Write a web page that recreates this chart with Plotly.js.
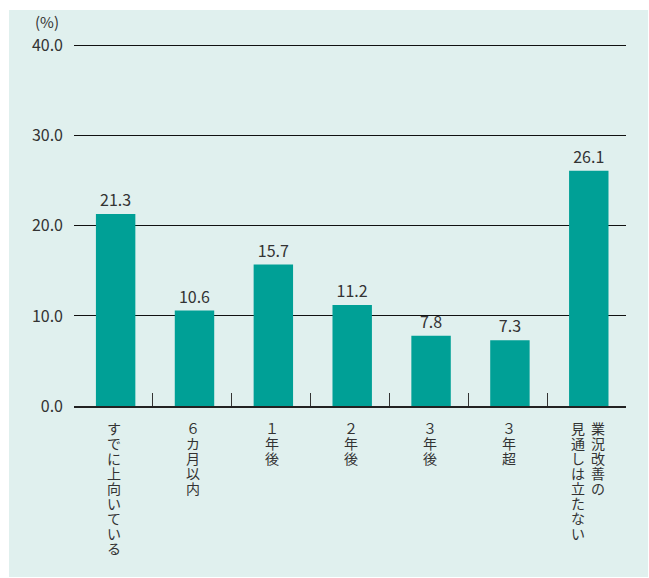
<!DOCTYPE html>
<html>
<head>
<meta charset="utf-8">
<script src="https://cdn.plot.ly/plotly-3.0.1.min.js"></script>
<style>
  html, body { margin: 0; padding: 0; background: #ffffff; }
  #chart { width: 649px; height: 578px; }
</style>
</head>
<body>
<div id="chart"></div>
<script>
// ---- data ----
var categories = ["すでに上向いている", "6カ月以内", "1年後", "2年後", "3年後", "3年超", "業況改善の見通しは立たない"];
// vertical label columns (right column first, as in vertical Japanese writing)
var labelColumns = [
  ["すでに上向いている"],
  ["６カ月以内"],
  ["１年後"],
  ["２年後"],
  ["３年後"],
  ["３年超"],
  ["業況改善の", "見通しは立たない"]
];
var values = [21.3, 10.6, 15.7, 11.2, 7.8, 7.3, 26.1];
var valueLabels = ["21.3", "10.6", "15.7", "11.2", "7.8", "7.3", "26.1"];
var yTicks = [0, 10, 20, 30, 40];
var yTickLabels = ["0.0", "10.0", "20.0", "30.0", "40.0"];
var unitLabel = "(%)";

// ---- styles ----
var textColor = "#333333";
var barColor = "#00a096";
var bgColor = "#e0f0ee";
var jpFont = "'Noto Sans CJK JP', 'Noto Sans', sans-serif";

var annotations = [];
// vertical tick labels: one annotation per character
var charStep = 15;
var colGap = 20;
labelColumns.forEach(function (cols, ci) {
  var n = cols.length;
  cols.forEach(function (col, k) {
    var xs = ((n - 1) / 2 - k) * colGap + 1; // right column first
    Array.from(col).forEach(function (ch, i) {
      annotations.push({
        x: categories[ci], xref: "x",
        y: 0, yref: "y",
        text: ch, showarrow: false,
        xanchor: "center", yanchor: "top",
        xshift: xs,
        yshift: -10 - i * charStep,
        font: { family: jpFont, size: 14, color: textColor }
      });
    });
  });
});
annotations.push({
  x: -0.049, xref: "paper", y: 1.055, yref: "paper",
  text: unitLabel, showarrow: false,
  xanchor: "center", yanchor: "middle",
  font: { family: jpFont, size: 15, color: textColor }
});

var trace = {
  type: "bar",
  x: categories,
  y: values,
  width: 0.5,
  offset: -0.222,
  text: valueLabels,
  textposition: "outside",
  cliponaxis: false,
  textfont: { family: jpFont, size: 16, color: textColor },
  marker: { color: barColor, line: { width: 0 } },
  hoverinfo: "none"
};

var layout = {
  width: 649, height: 578,
  margin: { l: 74, r: 23, t: 42, b: 172 },
  paper_bgcolor: "#ffffff",
  plot_bgcolor: "rgba(0,0,0,0)",
  showlegend: false,
  shapes: [{
    type: "rect", xref: "paper", yref: "paper", layer: "below",
    x0: -0.1178, x1: 1.0399, y0: -0.4698, y1: 1.0879,
    fillcolor: bgColor, line: { width: 0 }
  }],
  xaxis: {
    type: "category",
    showticklabels: false,
    ticks: "inside",
    tickson: "boundaries",
    ticklen: 13,
    tickwidth: 1.2,
    tickcolor: "#333333",
    showline: true,
    linecolor: "#222222",
    linewidth: 1.5,
    showgrid: false,
    zeroline: false,
    fixedrange: true
  },
  yaxis: {
    range: [0, 40.4],
    tickvals: yTicks,
    ticktext: yTickLabels,
    ticks: "",
    ticklabelstandoff: 10,
    showgrid: true,
    gridcolor: "#111111",
    gridwidth: 1,
    zeroline: false,
    showline: false,
    tickfont: { family: jpFont, size: 16, color: textColor },
    fixedrange: true
  },
  annotations: annotations
};

Plotly.newPlot("chart", [trace], layout, { displayModeBar: false, staticPlot: true });
</script>
</body>
</html>
